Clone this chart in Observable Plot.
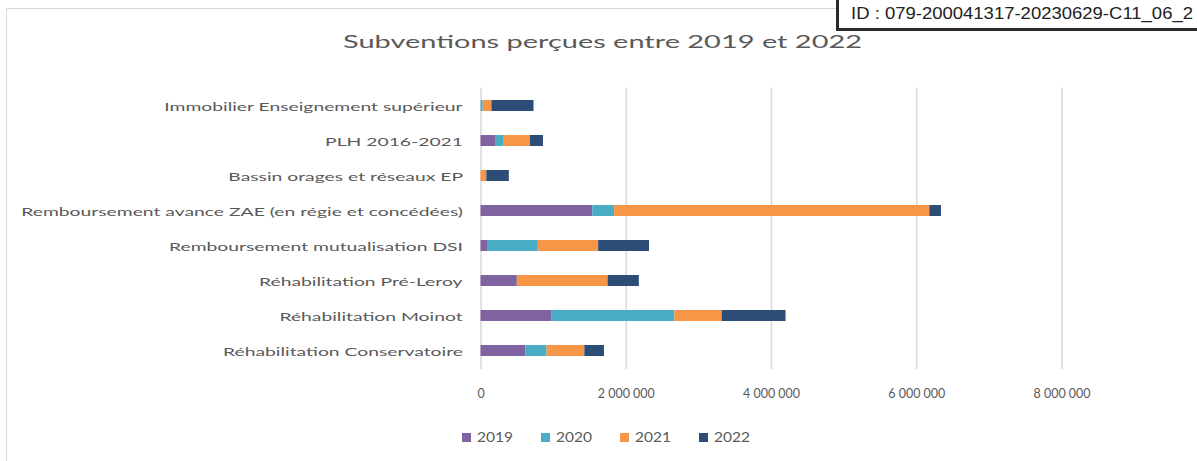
<!DOCTYPE html>
<html>
<head>
<meta charset="utf-8">
<script src="https://cdn.jsdelivr.net/npm/d3@7"></script>
<script src="https://cdn.jsdelivr.net/npm/@observablehq/plot@0.6"></script>
<style>
  html, body { margin: 0; padding: 0; background: #fff; }
  #wrap { position: relative; width: 1197px; height: 461px; overflow: hidden; font-family: Lato, sans-serif; color: #595959; }
  #frame { position: absolute; left: 6px; top: 8px; width: 1400px; height: 700px; border-left: 1.5px solid #d9d9d9; border-top: 1.5px solid #d9d9d9; }
  #titlebox { position: relative; height: 60px; }
  #title { position: absolute; left: 343px; top: 30.5px; font-size: 18px; line-height: 1.2; white-space: nowrap; transform-origin: 0 50%; display: inline-block; }
  #chart { position: relative; height: 360px; }
  #chart svg { display: block; }
  #legend { position: relative; height: 41px; }
  .item { position: absolute; top: 9px; display: flex; align-items: center; height: 16px; }
  .sw { width: 9px; height: 9px; margin-right: 6px; }
  .lab { font-size: 14px; line-height: 16px; display: inline-block; transform-origin: 0 50%; white-space: nowrap; }
  #idbox { position: absolute; left: 836px; top: -3px; width: 420px; height: 24.7px; padding: 3.6px 0 0 12px; border: 3px solid #2b2b2b; background: #fff; font-family: "Liberation Sans", Arial, sans-serif; font-size: 16.5px; line-height: 19px; color: #222; }
  #idtext { display: inline-block; white-space: nowrap; transform-origin: 0 50%; }
</style>
</head>
<body>
<div id="wrap">
  <div id="frame"></div>
  <div id="titlebox"><span id="title"></span></div>
  <div id="chart"></div>
  <div id="legend"></div>
  <div id="idbox"><span id="idtext"></span></div>
</div>
<script>
const titleText = "Subventions perçues entre 2019 et 2022";
const idText = "ID : 079-200041317-20230629-C11_06_2";
const categories = [
  "Immobilier Enseignement supérieur",
  "PLH 2016-2021",
  "Bassin orages et réseaux EP",
  "Remboursement avance ZAE (en régie et concédées)",
  "Remboursement mutualisation DSI",
  "Réhabilitation Pré-Leroy",
  "Réhabilitation Moinot",
  "Réhabilitation Conservatoire"
];
const years = ["2019", "2020", "2021", "2022"];
const v2019 = [0, 200000, 0, 1540000, 100000, 500000, 980000, 620000];
const v2020 = [30000, 120000, 0, 300000, 690000, 0, 1690000, 290000];
const v2021 = [120000, 360000, 80000, 4340000, 830000, 1250000, 650000, 520000];
const v2022 = [580000, 180000, 310000, 160000, 700000, 430000, 880000, 270000];
const xTicks = [0, 2000000, 4000000, 6000000, 8000000];
const colors = ["#8064a2", "#4bacc6", "#f79646", "#2c4d75"];

const series = [v2019, v2020, v2021, v2022];
const data = categories.flatMap((c, i) => years.map((y, j) => ({category: c, year: y, value: series[j][i]})));
const fmt = d => d3.format(",")(d).replace(/,/g, " ");

const chart = Plot.plot({
  width: 1197,
  height: 360,
  marginTop: 27.4,
  marginBottom: 51,
  marginLeft: 480.5,
  marginRight: 135.5,
  style: {fontFamily: "Lato, sans-serif", fontSize: "12px", color: "#595959", background: "transparent", overflow: "visible"},
  x: {domain: [0, 8000000], ticks: xTicks, tickFormat: fmt, tickSize: 0, tickPadding: 19, label: null},
  y: {domain: categories, paddingInner: 0.69, paddingOuter: 0.345, tickSize: 0, tickPadding: 18, label: null},
  color: {domain: years, range: colors},
  marks: [
    Plot.ruleX(xTicks, {stroke: "#d9d9d9", strokeWidth: 1.5}),
    Plot.barX(data, {y: "category", x: "value", fill: "year"})
  ]
});
document.getElementById("chart").appendChild(chart);

document.getElementById("title").textContent = titleText;
document.getElementById("idtext").textContent = idText;

const legend = document.getElementById("legend");
years.forEach((y, i) => {
  const it = document.createElement("div");
  it.className = "item";
  it.style.left = (462 + 79 * i) + "px";
  const sw = document.createElement("div");
  sw.className = "sw";
  sw.style.background = colors[i];
  const lab = document.createElement("span");
  lab.className = "lab";
  lab.textContent = y;
  it.appendChild(sw); it.appendChild(lab);
  legend.appendChild(it);
});

function stretchSvg(t, s, anchor, dy) {
  const b = t.getBBox();
  const px = anchor === "end" ? b.x + b.width : anchor === "middle" ? b.x + b.width / 2 : b.x;
  const prev = t.getAttribute("transform") || "";
  t.setAttribute("transform", `${prev} translate(${px},${dy || 0}) scale(${s},1) translate(${-px},0)`);
}
function fitHtml(el, w) {
  const r = el.getBoundingClientRect().width;
  el.style.transform = `scaleX(${w / r})`;
}

function adjust() {
  const svg = chart.tagName.toLowerCase() === "svg" ? chart : chart.querySelector("svg");
  const yTexts = Array.from(svg.querySelectorAll('[aria-label^="y-axis"] text'));
  const maxW = Math.max(...yTexts.map(t => t.getBBox().width));
  yTexts.forEach(t => stretchSvg(t, 442 / maxW, "end", 1.6));
  const xTexts = Array.from(svg.querySelectorAll('[aria-label^="x-axis"] text'));
  xTexts.forEach(t => { t.style.fontSize = "14px"; });
  const ref = xTexts.find(t => t.textContent === "2 000 000");
  const sx = ref ? 57 / ref.getBBox().width : 1;
  xTexts.forEach(t => stretchSvg(t, sx, "middle", 0));
  fitHtml(document.getElementById("title"), 519);
  document.querySelectorAll(".lab").forEach(l => fitHtml(l, 36));
  fitHtml(document.getElementById("idtext"), 342);
}
adjust();
</script>
</body>
</html>
